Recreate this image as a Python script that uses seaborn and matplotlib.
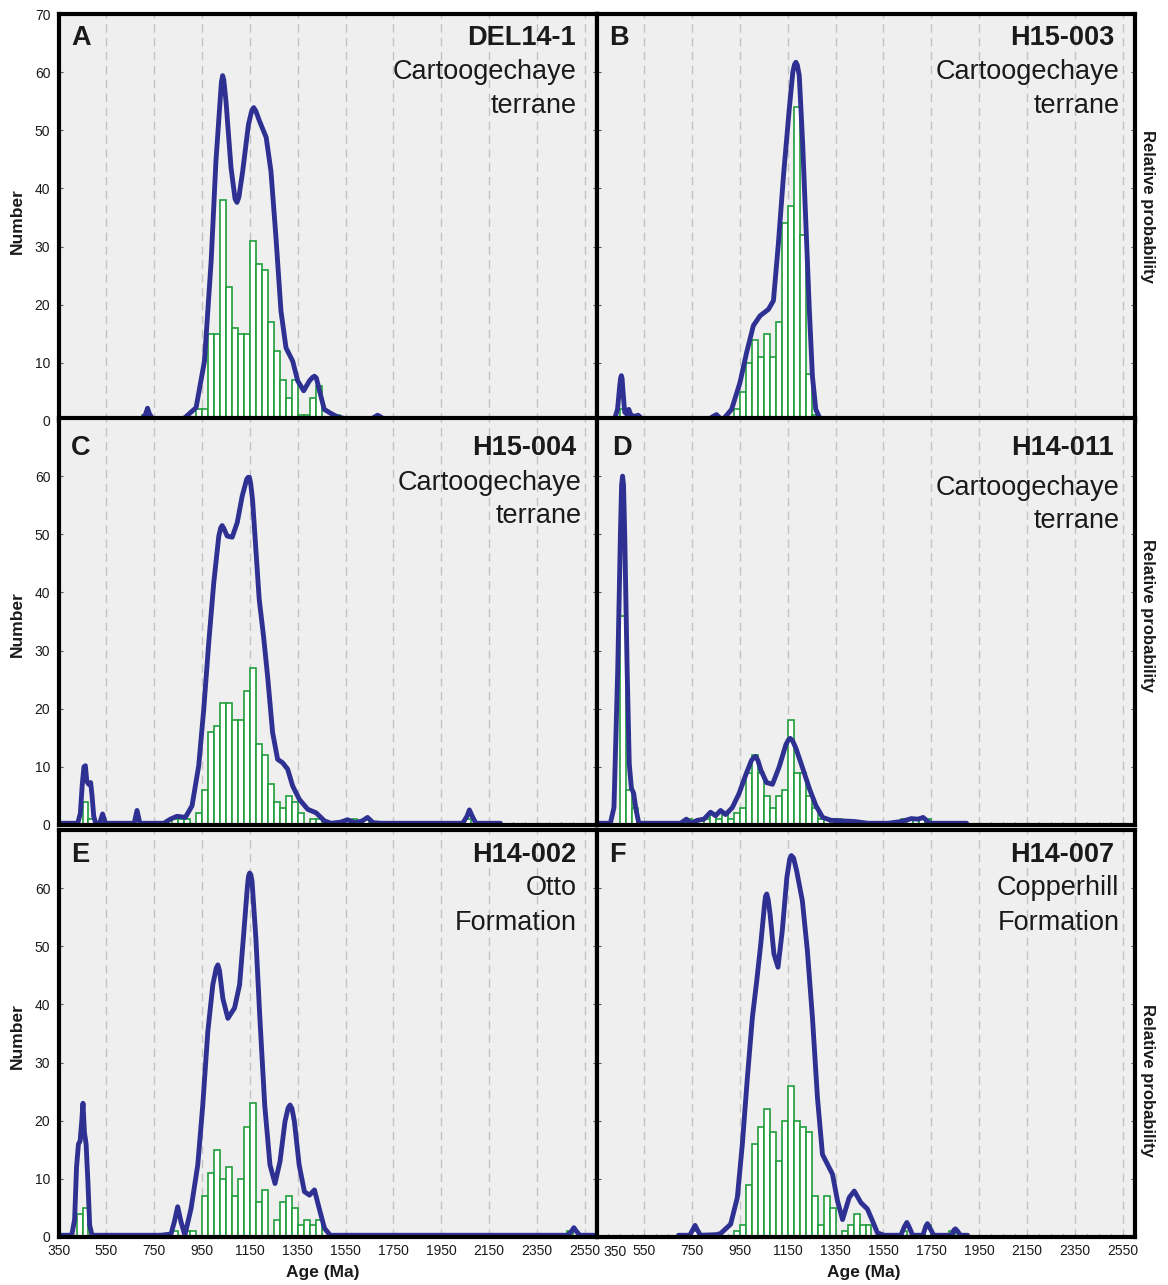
import numpy as np
import pandas as pd
import matplotlib
matplotlib.use("Agg")
import matplotlib.pyplot as plt
from matplotlib.ticker import MultipleLocator
import seaborn as sns

sns.set_theme(style="white")
plt.rcParams['font.family'] = ['Liberation Sans', 'DejaVu Sans']

# ---------------------------------------------------------------------------
# Detrital zircon U-Pb ages: histogram counts (25 Ma bins, left edges) and
# relative-probability curves (age, height in count units)
# ---------------------------------------------------------------------------
BIN_WIDTH = 25
AGE_TICKS = [350, 550, 750, 950, 1150, 1350, 1550, 1750, 1950, 2150, 2350, 2550]

# A - DEL14-1
A_bins = [700, 925, 950, 975, 1000, 1025, 1050, 1075, 1100, 1125, 1150, 1175, 1200,
          1225, 1250, 1275, 1300, 1325, 1350, 1375, 1400, 1425, 1500]
A_counts = [1, 2, 2, 15, 15, 38, 23, 16, 15, 15, 31, 27, 26, 17, 12, 7, 4, 7, 1, 1, 4,
            6, 1]
A_curve_age = [598, 700, 714, 722, 730, 745, 840, 876, 925, 960, 988, 1008, 1027, 1031,
               1036, 1041, 1050, 1071, 1088, 1096, 1104, 1120, 1144, 1158, 1166, 1175,
               1190, 1218, 1238, 1259, 1280, 1301, 1329, 1350, 1375, 1399, 1412, 1420,
               1428, 1441, 1461, 1489, 1517, 1559, 1657, 1672, 1684, 1697, 1712, 1798]
A_curve_val = [0.3, 0.3, 1.2, 2.2, 1.2, 0.3, 0.3, 0.5, 2.3, 10.3, 27.5, 44.7, 56, 58.3,
               59.4, 58.6, 55, 43.6, 38.2, 37.6, 38.5, 43, 51, 53.4, 53.9, 53.3,
               51.6, 48.8, 43, 31.6, 18.9, 12.6, 10.3, 6.9, 5.2, 6.9, 7.5, 7.7,
               7.4, 5.2, 2, 1.3, 0.7, 0.3, 0.3, 0.7, 1.0, 0.7, 0.3, 0.3]

# B - H15-003
B_bins = [450, 475, 925, 950, 975, 1000, 1025, 1050, 1075, 1100, 1125, 1150, 1175,
          1200, 1225, 1250]
B_counts = [2, 1, 2, 5, 10, 14, 11, 15, 11, 17, 34, 37, 54, 32, 8, 1]
B_curve_age = [350, 425, 438, 447, 451, 454, 457, 461, 468, 476, 485, 494, 510, 524,
               540, 560, 820, 838, 852, 866, 880, 915, 950, 978, 1006, 1034, 1069,
               1090, 1111, 1132, 1156, 1171, 1178, 1184, 1190, 1198, 1212, 1226, 1240,
               1253, 1267, 1286, 1400]
B_curve_val = [0.3, 0.3, 2, 6, 7.4, 7.8, 7.3, 5, 1.5, 1.2, 2, 1, 0.8, 1,
               0.4, 0.3, 0.3, 0.8, 1.1, 0.5, 0.3, 2, 6.6, 11.8, 16.4, 18.1, 19.2,
               20.7, 30.7, 42.2, 53.6, 60, 61.3, 61.7, 61.2, 59.4, 47.9, 33.6, 19.2,
               7.7, 2, 0.3, 0.3]

# C - H15-004
C_bins = [450, 475, 825, 850, 875, 925, 950, 975, 1000, 1025, 1050, 1075, 1100, 1125,
          1150, 1175, 1200, 1225, 1250, 1275, 1300, 1325, 1350, 1400, 1425, 1575,
          1625, 2050]
C_counts = [4, 1, 1, 1, 1, 2, 6, 16, 17, 21, 21, 18, 18, 23, 27, 14, 12, 7, 4, 3, 5,
            4, 2, 1, 1, 1, 1, 1]
C_curve_age = [350, 430, 441, 449, 456, 462, 468, 476, 484, 490, 497, 505, 522, 534,
               546, 666, 678, 690, 790, 817, 845, 880, 908, 936, 957, 978, 999, 1020,
               1028, 1034, 1041, 1055, 1076, 1097, 1118, 1137, 1143, 1148, 1153, 1161,
               1175, 1189, 1207, 1224, 1245, 1266, 1287, 1308, 1329, 1357, 1392, 1427,
               1462, 1490, 1530, 1558, 1590, 1620, 1642, 1665, 1700, 2040, 2058, 2068,
               2080, 2095, 2198]
C_curve_val = [0.3, 0.3, 2, 7, 10, 10.2, 7.5, 7, 7.3, 5, 1.5, 0.3, 0.3, 1.9,
               0.3, 0.3, 2.5, 0.3, 0.3, 1.0, 1.5, 1.3, 3.3, 10.2, 19.9, 31.4, 41.7, 49.7,
               51.1, 51.5, 51, 49.7, 49.5, 52, 56.6, 59.5, 59.8, 59.8, 58.8, 56,
               47.4, 38.8, 32.5, 25.6, 15.9, 11.3, 10.7, 9.6, 6.7, 4.4, 2.7, 2.1,
               0.7, 0.3, 0.5, 0.9, 0.4, 0.7, 1.3, 0.4, 0.3, 0.3, 1.5, 2.6,
               1.5, 0.3, 0.3]

# D - H14-011
D_bins = [450, 475, 500, 725, 775, 800, 825, 850, 875, 900, 925, 950, 975, 1000, 1025,
          1050, 1075, 1100, 1125, 1150, 1175, 1200, 1225, 1250, 1275, 1300, 1325,
          1350, 1625, 1650, 1675, 1700, 1725]
D_counts = [36, 6, 3, 1, 1, 1, 2, 1, 2, 1, 2, 3, 9, 12, 9, 5, 3, 5, 6, 18, 9, 9, 5, 3,
            1, 1, 1, 1, 1, 1, 1, 1, 1]
D_curve_age = [350, 408, 423, 439, 450, 455, 459, 463, 468, 478, 487, 496, 505, 515,
               527, 701, 726, 746, 771, 799, 827, 848, 869, 890, 918, 946, 974, 998,
               1008, 1016, 1025, 1037, 1061, 1086, 1114, 1142, 1152, 1160, 1170, 1184,
               1212, 1240, 1268, 1296, 1331, 1429, 1485, 1569, 1625, 1667, 1695, 1716,
               1744, 1898]
D_curve_val = [0.3, 0.3, 3, 27, 50, 58.5, 60, 58.5, 50, 27, 10.5, 6.3, 5.5, 2.7,
               0.3, 0.3, 1, 0.3, 0.8, 1, 2.2, 1.6, 2.5, 1.8, 3, 5.4, 8.6, 11.1,
               11.6, 11.8, 11.1, 9.5, 7.3, 7.0, 10, 13.8, 14.6, 14.9, 14.5, 13.2,
               9.8, 6.3, 3.3, 1.3, 0.8, 0.6, 0.3, 0.3, 0.6, 1.1, 1.0, 1.3,
               0.3, 0.3]

# E - H14-002
E_bins = [425, 450, 825, 875, 900, 950, 975, 1000, 1025, 1050, 1075, 1100, 1125, 1150,
          1175, 1200, 1250, 1275, 1300, 1325, 1350, 1375, 1400, 1425, 2475]
E_counts = [4, 5, 1, 1, 1, 7, 11, 15, 10, 12, 7, 10, 19, 23, 6, 8, 3, 6, 7, 5, 2, 3,
            2, 3, 1]
E_curve_age = [350, 405, 417, 425, 433, 440, 447, 452, 458, 465, 472, 480, 490, 777,
               820, 834, 848, 862, 878, 904, 932, 953, 974, 995, 1009, 1016, 1023, 1037,
               1058, 1086, 1107, 1125, 1139, 1144, 1149, 1154, 1159, 1175, 1191, 1212,
               1234, 1255, 1276, 1297, 1310, 1318, 1326, 1336, 1356, 1378, 1399, 1420,
               1440, 1462, 1486, 2480, 2495, 2505, 2515, 2530, 2590]
E_curve_val = [0.3, 0.3, 3, 12, 16, 16.5, 20, 23, 18, 16, 10, 2, 0.3, 0.3,
               0.5, 2.6, 5.2, 2.6, 0.3, 4.9, 12.4, 22.7, 35.3, 43.4, 46.2, 46.8, 45.8, 41,
               37.6, 39.4, 43.4, 52.6, 60, 62, 62.6, 62.3, 61.2, 51.4, 38.2, 22.7,
               12.4, 9.2, 13, 19.9, 22.2, 22.7, 22.1, 19.9, 12.4, 7.8, 7.2, 8.1,
               4.9, 1.5, 0.3, 0.3, 1.0, 1.6, 1.0, 0.3, 0.3]

# F - H14-007
F_bins = [750, 925, 950, 975, 1000, 1025, 1050, 1075, 1100, 1125, 1150, 1175, 1200,
          1225, 1250, 1275, 1300, 1325, 1375, 1400, 1425, 1450, 1475, 1625, 1725, 1825]
F_counts = [1, 1, 2, 9, 16, 19, 22, 18, 13, 20, 26, 20, 19, 18, 7, 2, 7, 5, 1, 2, 4, 2,
            2, 1, 2, 1]
F_curve_age = [693, 740, 752, 762, 772, 785, 850, 869, 911, 939, 960, 981, 1002, 1020,
               1037, 1053, 1057, 1062, 1068, 1076, 1092, 1109, 1127, 1146, 1158, 1165,
               1174, 1187, 1211, 1232, 1253, 1274, 1295, 1316, 1337, 1358, 1379, 1407,
               1428, 1456, 1483, 1504, 1525, 1553, 1623, 1638, 1648, 1660, 1672, 1715,
               1727, 1734, 1745, 1760, 1835, 1845, 1851, 1860, 1872, 1902]
F_curve_val = [0.3, 0.3, 1.2, 2, 1.2, 0.3, 0.4, 0.6, 2.2, 6.8, 16, 27.4, 37.8, 44,
               50.4, 57.3, 58.6, 59, 58, 55.5, 48.7, 46.4, 52.7, 61.8, 65, 65.6,
               65.2, 63, 57.8, 49.2, 37.8, 24, 14.2, 12.5, 10.8, 6.2, 3, 6.8,
               7.9, 5.9, 4.8, 2.8, 0.7, 0.3, 0.3, 1.8, 2.5, 1.5, 0.3, 0.3,
               1.8, 2.3, 1.5, 0.3, 0.3, 1.2, 1.4, 1.0, 0.3, 0.3]

# Panel captions
letters = ["A", "B", "C", "D", "E", "F"]
samples = ["DEL14-1", "H15-003", "H15-004", "H14-011", "H14-002", "H14-007"]
units = [["Cartoogechaye", "terrane"], ["Cartoogechaye", "terrane"],
         ["Cartoogechaye", "terrane"], ["Cartoogechaye", "terrane"],
         ["Otto", "Formation"], ["Copperhill", "Formation"]]

hist_bins = [A_bins, B_bins, C_bins, D_bins, E_bins, F_bins]
hist_counts = [A_counts, B_counts, C_counts, D_counts, E_counts, F_counts]
curve_ages = [A_curve_age, B_curve_age, C_curve_age, D_curve_age, E_curve_age, F_curve_age]
curve_vals = [A_curve_val, B_curve_val, C_curve_val, D_curve_val, E_curve_val, F_curve_val]

# ---------------------------------------------------------------------------
# Styling / layout
# ---------------------------------------------------------------------------
GREEN = "#1f9e3c"
BLUE = "#2e3192"
PANEL_BG = "#efefef"
GRID = "#c2c2c2"
TEXT = "#1a1a1a"
CAPTION_SIZE = 19.5

W, H = 1168, 1285
fig = plt.figure(figsize=(W / 100, H / 100), dpi=100)
fig.patch.set_facecolor("white")

col_left = [58.6, 596.5]
panel_w = 538.0
panel_h = 407.0
row_top = [14.0, 418.0, 830.0]

# caption baselines (axes fraction) for name / line 2 / line 3
caption_y = [[0.924, 0.840, 0.757], [0.924, 0.840, 0.757],
             [0.909, 0.823, 0.742], [0.909, 0.811, 0.730],
             [0.921, 0.840, 0.754], [0.921, 0.840, 0.754]]
letter_x = [0.023, 0.023, 0.023, 0.029, 0.023, 0.023]
unit_x = [0.963, 0.972, 0.972, 0.972, 0.963, 0.972]

for i in range(6):
    row, col = divmod(i, 2)
    left = col_left[col] / W
    bottom = 1 - (row_top[row] + panel_h) / H
    ax = fig.add_axes([left, bottom, panel_w / W, panel_h / H])
    ax.set_facecolor(PANEL_BG)

    # dashed vertical grid at each age tick
    for t in AGE_TICKS[1:]:
        ax.axvline(t, color=GRID, lw=1.0, ls=(0, (6, 4)), zorder=0.5)

    # histogram of ages (25 Ma bins); each grain placed at its bin centre
    bins = np.asarray(hist_bins[i], dtype=float)
    counts = np.asarray(hist_counts[i], dtype=int)
    ages = np.repeat(bins + BIN_WIDTH / 2, counts)
    edges = list(np.arange(bins.min(), bins.max() + BIN_WIDTH + 1, BIN_WIDTH))
    sns.histplot(x=ages, bins=edges, stat="count",
                 element="bars", fill=True, color="white", alpha=1,
                 edgecolor=GREEN, linewidth=1.2, ax=ax, zorder=2)

    # relative probability curve
    cdf = pd.DataFrame({"age": curve_ages[i], "p": curve_vals[i]})
    sns.lineplot(data=cdf, x="age", y="p", sort=False, estimator=None,
                 color=BLUE, lw=3.5, ax=ax, zorder=3,
                 solid_joinstyle="round", solid_capstyle="round")

    ax.set_xlim(350, 2600)
    ax.set_ylim(0, 70)
    ax.set_xlabel("")
    ax.set_ylabel("")
    ax.set_xticks(AGE_TICKS)
    ax.xaxis.set_minor_locator(MultipleLocator(50))
    ax.yaxis.set_major_locator(MultipleLocator(10))

    for sp in ax.spines.values():
        sp.set_visible(True)
        sp.set_color("black")
        sp.set_linewidth(3.0)
        sp.set_zorder(5)

    ax.tick_params(axis="x", which="both", direction="in", length=2.5, width=0.8,
                   colors="#555555", bottom=True, top=False,
                   labelsize=10, labelcolor=TEXT, pad=5)
    ax.tick_params(axis="y", which="both", direction="in", length=3, width=0.8,
                   colors="#555555", left=True, right=True,
                   labelsize=10, labelcolor=TEXT, pad=6)

    if row < 2:
        ax.tick_params(axis="x", labelbottom=False)
    if col == 1:
        ax.tick_params(axis="y", labelleft=False)
    else:
        if row == 0:
            ax.set_yticks(np.arange(0, 71, 10))
        else:
            ax.set_yticks(np.arange(0, 61, 10))
            ax.set_ylim(0, 70)

    if row == 2 and col == 1:
        # first age label sits just right of the shared frame line
        ax.set_xticklabels([""] + [str(t) for t in AGE_TICKS[1:]])
        ax.annotate(str(AGE_TICKS[0]), xy=(AGE_TICKS[0], 0),
                    xycoords=("data", "axes fraction"), xytext=(5, -5.6),
                    textcoords="offset points", ha="left", va="top",
                    fontsize=10, color=TEXT, annotation_clip=False)

    # captions
    cy = caption_y[i]
    ax.text(letter_x[i], cy[0], letters[i], transform=ax.transAxes, ha="left",
            va="baseline", fontsize=CAPTION_SIZE, fontweight="bold", color=TEXT,
            zorder=6)
    ax.text(0.962, cy[0], samples[i], transform=ax.transAxes, ha="right",
            va="baseline", fontsize=CAPTION_SIZE, fontweight="bold", color=TEXT,
            zorder=6)
    ax.text(unit_x[i], cy[1], units[i][0], transform=ax.transAxes, ha="right",
            va="baseline", fontsize=CAPTION_SIZE, color=TEXT, zorder=6)
    ax.text(unit_x[i], cy[2], units[i][1], transform=ax.transAxes, ha="right",
            va="baseline", fontsize=CAPTION_SIZE, color=TEXT, zorder=6)

# axis titles
for yc in [221, 624, 1036]:
    fig.text(17 / W, 1 - yc / H, "Number", rotation=90, ha="center", va="center",
             fontsize=12.5, fontweight="bold", color=TEXT)
for yc in [206, 615, 1080]:
    fig.text(1147 / W, 1 - yc / H, "Relative probability", rotation=270,
             ha="center", va="center", fontsize=12, fontweight="bold", color=TEXT)
for xc in [323, 864]:
    fig.text(xc / W, 1 - 1272 / H, "Age (Ma)", ha="center", va="center",
             fontsize=12.5, fontweight="bold", color=TEXT)

fig.savefig("out.png", dpi=100, facecolor="white")
